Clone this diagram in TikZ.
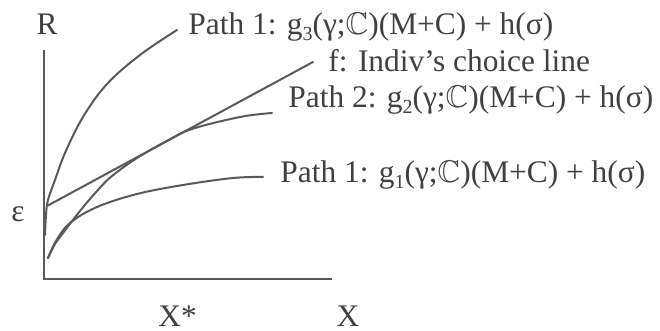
\documentclass[tikz,border=0pt]{standalone}
\usepackage{fontspec}
\usepackage{amssymb}
\setmainfont{Liberation Serif}
\begin{document}
\begin{tikzpicture}[x=0.5pt,y=-0.5pt,
  lbl/.style={inner sep=0pt,text=black!75,font=\fontsize{15.7}{19}\selectfont},
  axis/.style={draw=black!65,line width=1pt},
  crv/.style={draw=black!65,line width=1pt,line cap=round}]
\useasboundingbox (0,0) rectangle (660,331);
\newcommand{\lowsub}[1]{\raisebox{-0.35ex}{\fontsize{10}{12}\selectfont #1}}
% axes
\coordinate (top) at (44,50);
\coordinate (o) at (44,279);
\coordinate (xend) at (332,279);
\draw[axis] (top) -- (o) -- (xend);
% labels
\node[lbl,anchor=base] (R) at (47,35) {R};
\node[lbl,anchor=base] (eps) at (18,222) {ε};
\node[lbl,anchor=base west] (xs) at (158,327) {X*};
\node[lbl,anchor=base] (xl) at (348,327) {X};
\node[lbl,anchor=base west] (l3) at (188,35) {Path 1: g\lowsub{3}(γ;$\mathbb{C}$)(M+C) + h(σ)};
\node[lbl,anchor=base west] (lf) at (328,72) {f: Indiv’s choice line};
\node[lbl,anchor=base west] (l2) at (288,108) {Path 2: g\lowsub{2}(γ;$\mathbb{C}$)(M+C) + h(σ)};
\node[lbl,anchor=base west] (l1) at (280,183) {Path 1: g\lowsub{1}(γ;$\mathbb{C}$)(M+C) + h(σ)};
% curve ends
\coordinate (fs) at (47,206);
\coordinate (fe) at (313,62);
% f line
\draw[crv] (fs) -- (fe);
% g3
\draw[crv] plot[smooth,tension=0.6] coordinates {(45,235) (46,215) (48,200) (55,180) (65,153) (83,117) (107,84) (140,55) (177,30)};
% g2
\draw[crv] plot[smooth,tension=0.6] coordinates {(48,258) (55,244) (63,233) (80,211) (97,191) (112,176) (137,158) (165,142) (192,129) (240,117) (272,113)};
% g1
\draw[crv] plot[smooth,tension=0.6] coordinates {(48,258) (56,241) (70,223) (97,207) (137,194) (183,185) (233,178) (263,177)};
\end{tikzpicture}
\end{document}
